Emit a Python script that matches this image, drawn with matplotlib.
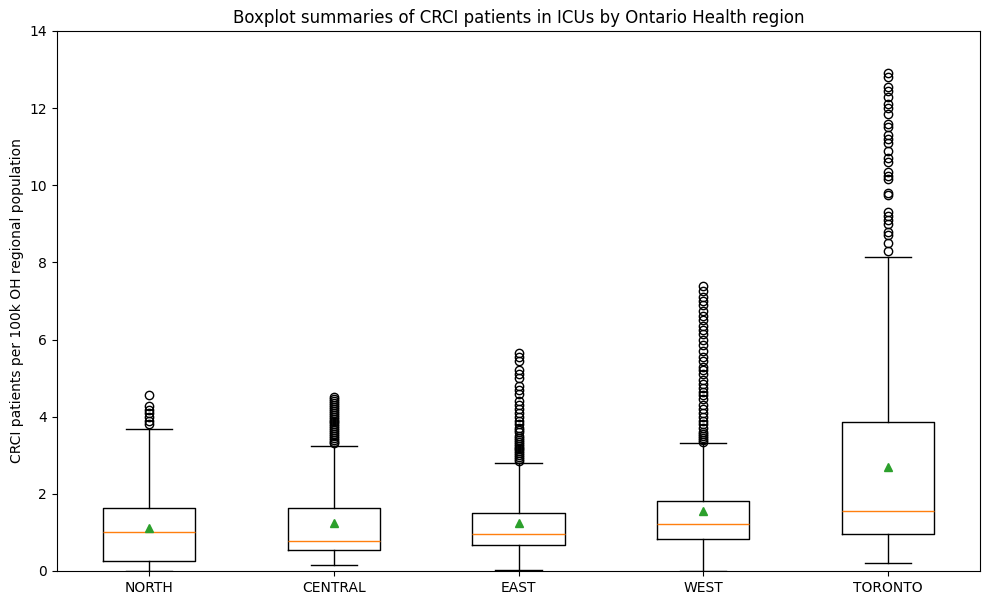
import matplotlib
matplotlib.use("Agg")
import matplotlib.pyplot as plt

regions = ["NORTH", "CENTRAL", "EAST", "WEST", "TORONTO"]
q1s     = [0.25, 0.55, 0.67, 0.82, 0.96]
medians = [1.00, 0.77, 0.95, 1.21, 1.56]
q3s     = [1.63, 1.63, 1.51, 1.81, 3.86]
means   = [1.12, 1.25, 1.25, 1.55, 2.70]
wlo     = [0.00, 0.15, 0.03, 0.00, 0.20]
whi     = [3.67, 3.23, 2.80, 3.32, 8.14]

fl_north = [3.82, 3.9, 4.0, 4.1, 4.18, 4.28, 4.55]
fl_central = [3.32, 3.35, 3.4, 3.45, 3.5, 3.55, 3.6, 3.65, 3.7, 3.75, 3.8, 3.85,
              3.9, 3.95, 4.0, 4.05, 4.1, 4.15, 4.2, 4.25, 4.3, 4.35, 4.4, 4.45, 4.5]
fl_east = [2.85, 2.9, 2.95, 3.0, 3.05, 3.1, 3.15, 3.2, 3.25, 3.3, 3.35, 3.4, 3.45,
           3.5, 3.6, 3.65, 3.7, 3.8, 3.9, 4.0, 4.1, 4.2, 4.3, 4.4, 4.6, 4.7, 4.8,
           5.0, 5.1, 5.2, 5.45, 5.55, 5.65]
fl_west = [3.35, 3.4, 3.45, 3.5, 3.55, 3.6, 3.7, 3.8, 3.9, 4.0, 4.1, 4.2, 4.3,
           4.45, 4.55, 4.65, 4.75, 4.85, 4.95, 5.1, 5.2, 5.3, 5.45, 5.55, 5.7,
           5.85, 6.0, 6.15, 6.25, 6.35, 6.5, 6.6, 6.75, 6.9, 7.0, 7.1, 7.25, 7.38]
fl_toronto = [8.3, 8.5, 8.7, 8.8, 9.0, 9.1, 9.2, 9.3, 9.75, 9.8, 10.15, 10.25,
              10.35, 10.6, 10.7, 10.9, 11.1, 11.2, 11.3, 11.5, 11.6, 11.85, 12.0,
              12.1, 12.3, 12.45, 12.55, 12.8, 12.9]
fliers = [fl_north, fl_central, fl_east, fl_west, fl_toronto]

stats = []
for i, name in enumerate(regions):
    stats.append(dict(label=name, q1=q1s[i], med=medians[i], q3=q3s[i],
                      mean=means[i], whislo=wlo[i], whishi=whi[i],
                      fliers=fliers[i]))

fig, ax = plt.subplots(figsize=(9.89, 6.05), dpi=100)
ax.bxp(stats, showmeans=True)
ax.set_ylim(0, 14)
ax.set_ylabel("CRCI patients per 100k OH regional population")
ax.set_title("Boxplot summaries of CRCI patients in ICUs by Ontario Health region")
fig.subplots_adjust(left=0.0576, right=0.991, top=0.9488, bottom=0.0562)
fig.savefig("out.png", dpi=100)
